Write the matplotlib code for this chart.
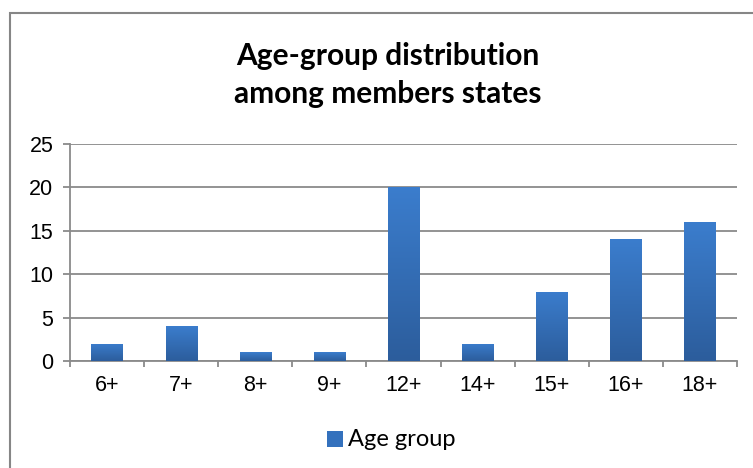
import matplotlib
matplotlib.use("Agg")
import matplotlib.pyplot as plt
import numpy as np
from matplotlib.patches import Rectangle
from matplotlib.colors import LinearSegmentedColormap

plt.rcParams["font.family"] = ["Liberation Sans", "DejaVu Sans"]

categories = ["6+", "7+", "8+", "9+", "12+", "14+", "15+", "16+", "18+"]
values = [2, 4, 1, 1, 20, 2, 8, 14, 16]
y_ticks = [0, 5, 10, 15, 20, 25]
series_name = "Age group"
title = "Age-group distribution\namong members states"

fig = plt.figure(figsize=(7.53, 4.68), dpi=100)
fig.patch.set_facecolor("white")

# outer chart frame (extends beyond right/bottom)
frame = Rectangle((10/753, -0.1), 1.2, 1 - 13/468 + 0.1, transform=fig.transFigure,
                  fill=False, edgecolor="#868686", linewidth=1.5)
fig.add_artist(frame)

ax = fig.add_axes([70/753, 1 - 361/468, (737-70)/753, (361-144)/468])
x = np.arange(len(categories))
bars = ax.bar(x, values, width=0.42, color="#3471bd", zorder=3)

cmap = LinearSegmentedColormap.from_list("g", ["#2c5d9c", "#3b7dcd"])
grad = np.linspace(0, 1, 256).reshape(-1, 1)
for b in bars:
    bx, by = b.get_x(), b.get_y()
    w, h = b.get_width(), b.get_height()
    im = ax.imshow(grad, extent=(bx, bx + w, by, by + h), origin="lower",
                   cmap=cmap, aspect="auto", zorder=4)
    im.set_clip_path(b)

ax.set_xlim(-0.5, len(categories) - 0.5)
ax.set_ylim(0, 25)
ax.set_yticks(y_ticks, labels=[str(v) for v in y_ticks],
              fontsize=15.5, fontfamily="Liberation Sans")
ax.yaxis.grid(True, color="#8a8a8a", linewidth=1.3, zorder=0)
ax.set_axisbelow(True)

ax.set_xticks(x, labels=categories, fontsize=15.5, fontfamily="Liberation Sans")
ax.set_xticks(np.arange(-0.5, len(categories), 1), minor=True)
ax.tick_params(axis="x", which="major", length=0, pad=10)
ax.tick_params(axis="x", which="minor", length=4, width=1.3, color="#8a8a8a", direction="out")
ax.tick_params(axis="y", length=5, width=1.3, color="#8a8a8a", pad=7)

for s in ["top", "right"]:
    ax.spines[s].set_visible(False)
for s in ["left", "bottom"]:
    ax.spines[s].set_color("#8a8a8a")
    ax.spines[s].set_linewidth(1.3)

fig.text(388/753, 1 - 75/468, title, ha="center", va="center", fontsize=21.5,
         fontweight="bold", fontfamily="Lato", linespacing=1.4)

# legend
lx, ly = 327, 439
fig.add_artist(Rectangle((lx/753, 1 - (ly+8)/468), 16/753, 16/468, transform=fig.transFigure,
                         facecolor="#3471bd", edgecolor="none"))
fig.text(348/753, 1 - ly/468, series_name, ha="left", va="center", fontsize=17,
         fontfamily="Lato")

fig.savefig("out.png", dpi=100)
